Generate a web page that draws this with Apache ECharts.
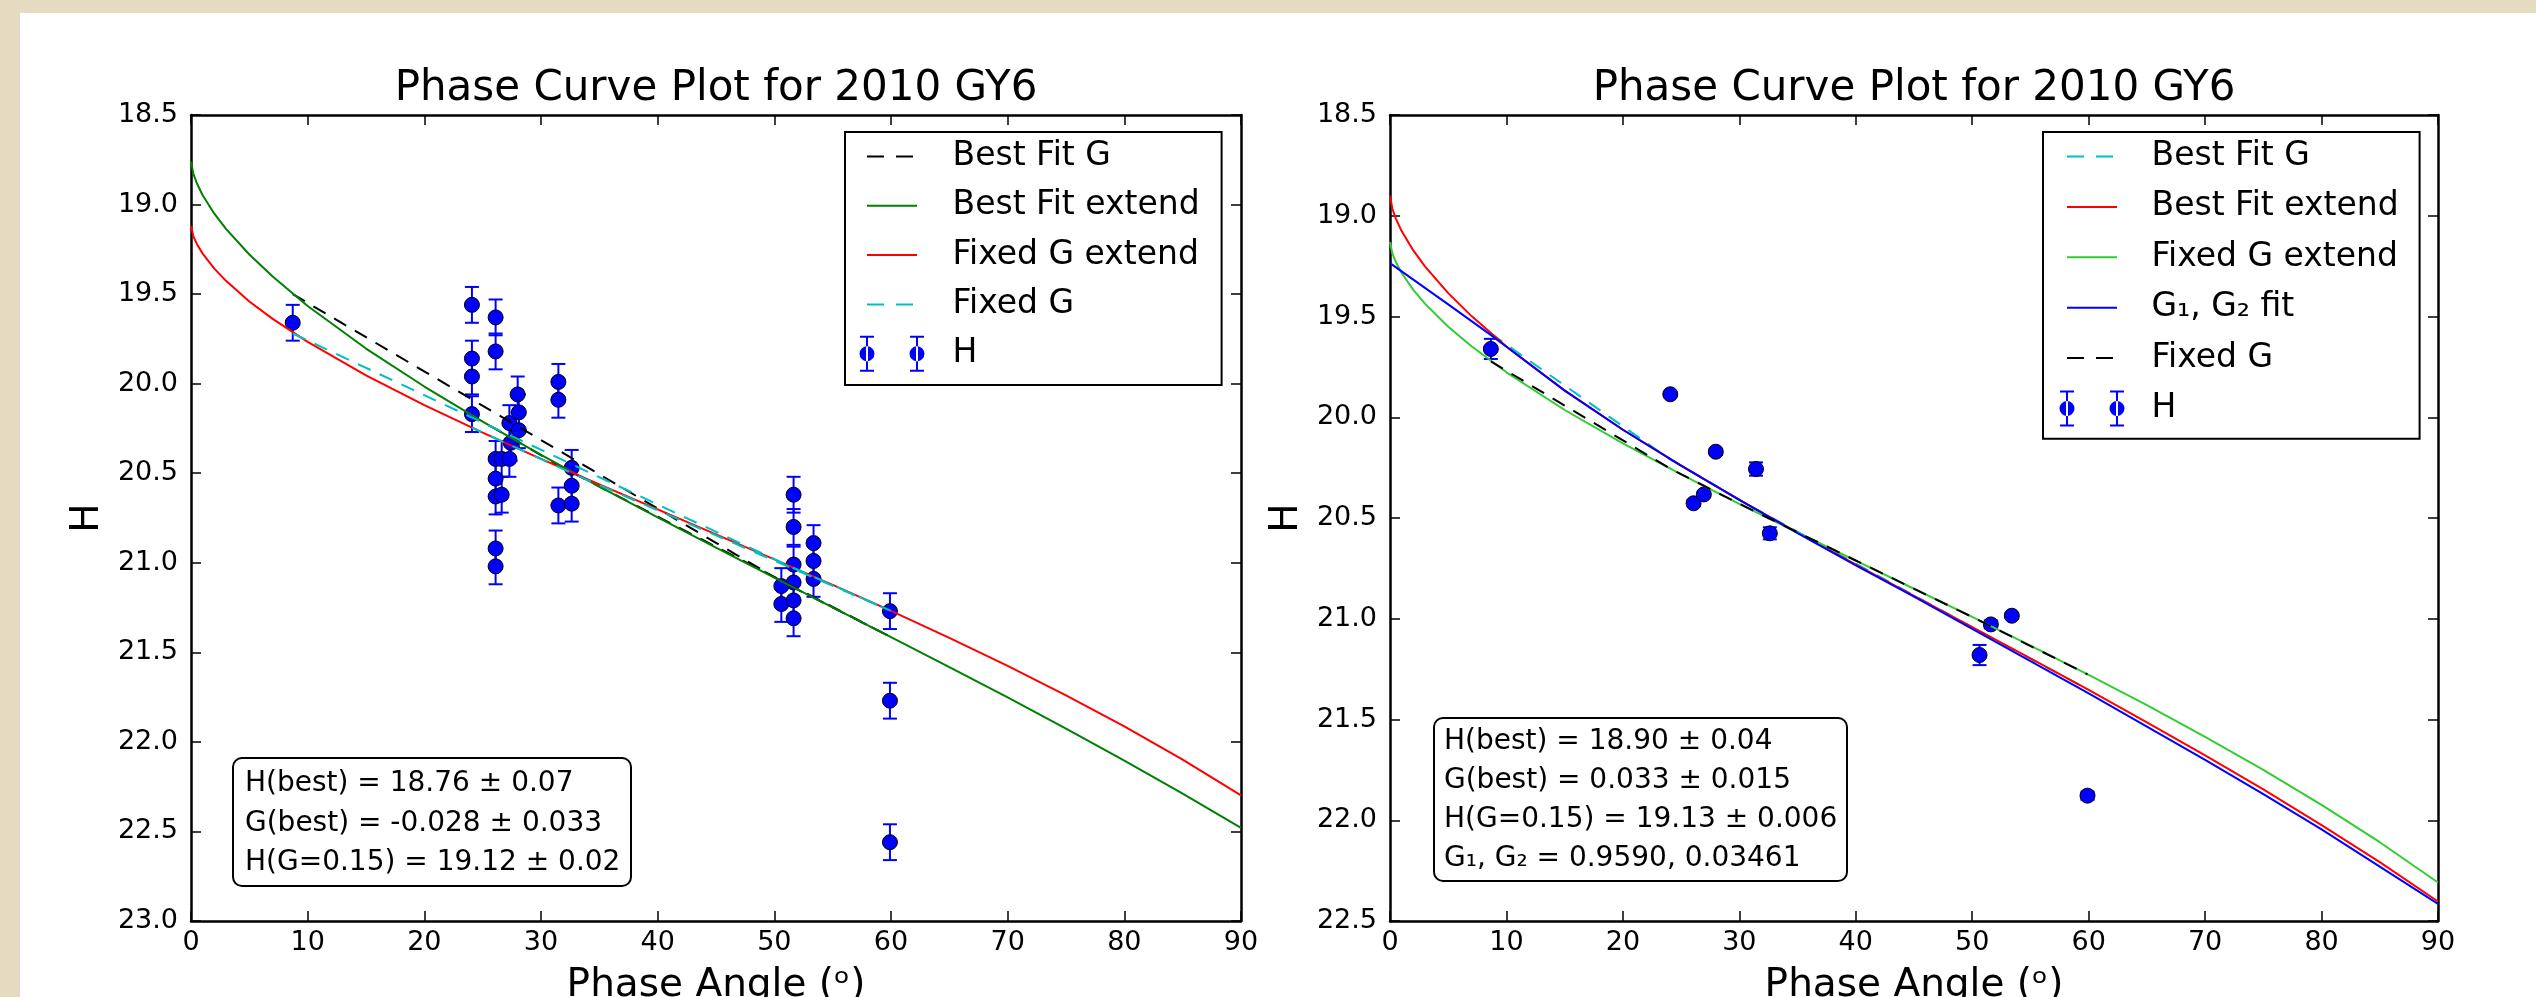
<!DOCTYPE html>
<html>
<head>
<meta charset="utf-8">
<title>Phase Curve Plot for 2010 GY6</title>
<script src="https://cdn.jsdelivr.net/npm/echarts@6/dist/echarts.min.js"></script>
<style>
html, body { margin: 0; padding: 0; background: #e4dbc1; }
#chart { width: 2536px; height: 997px; }
</style>
</head>
<body>
<div id="chart"></div>
<script>
// ---- data ----
// left panel: observations (phase angle, H, error)
const leftAngle = [8.72,
  24.08, 24.08, 24.08, 24.08,
  26.11, 26.11, 26.11, 26.11, 26.11, 26.11, 26.11,
  26.63, 26.63,
  27.29, 27.29, 27.4,
  28.0, 28.1, 28.1,
  31.49, 31.49, 31.49,
  32.63, 32.63, 32.63,
  50.6, 50.6,
  51.65, 51.65, 51.65, 51.65, 51.65, 51.65,
  53.36, 53.36, 53.36,
  59.91, 59.91, 59.91];
const leftH = [19.66,
  19.56, 19.86, 19.96, 20.17,
  19.63, 19.82, 20.42, 20.53, 20.63, 20.92, 21.02,
  20.42, 20.62,
  20.42, 20.22, 20.33,
  20.06, 20.16, 20.26,
  19.99, 20.09, 20.68,
  20.47, 20.57, 20.67,
  21.13, 21.23,
  20.62, 20.80, 21.01, 21.11, 21.21, 21.31,
  20.89, 20.99, 21.09,
  21.27, 21.77, 22.56];
const leftErr = [0.1,
  0.1, 0.1, 0.1, 0.1,
  0.1, 0.1, 0.1, 0.1, 0.1, 0.1, 0.1,
  0.1, 0.1,
  0.1, 0.1, 0.1,
  0.1, 0.1, 0.1,
  0.1, 0.1, 0.1,
  0.1, 0.1, 0.1,
  0.1, 0.1,
  0.1, 0.1, 0.1, 0.1, 0.1, 0.1,
  0.1, 0.1, 0.1,
  0.1, 0.1, 0.1];

// left panel: fit values at the observed angles, in the order they are joined
const leftFitAngle = [8.72, 50.6, 51.65, 53.36, 59.91, 32.63, 31.49, 28.1, 27.3, 26.11, 24.08];
const leftBestAtData = [19.50, 21.103, 21.138, 21.195, 21.412, 20.495, 20.455, 20.327, 20.297, 20.253, 20.18];
const leftFixedAtData = [19.72, 20.998, 21.029, 21.078, 21.266, 20.50, 20.465, 20.364, 20.341, 20.306, 20.245];

// extended curves (both panels)
const curveAngle = [0, 0.2, 0.5, 1, 2, 3, 5, 7, 10, 15, 20, 25, 30, 35, 40, 45, 50, 55, 60, 65, 70, 75, 80, 85, 90];
const leftBestExtend = [18.76, 18.828, 18.881, 18.948, 19.051, 19.136, 19.279, 19.402, 19.566, 19.804,
  20.016, 20.212, 20.397, 20.575, 20.747, 20.916, 21.083, 21.249, 21.415, 21.583, 21.751, 21.926,
  22.105, 22.289, 22.480];
const leftFixedExtend = [19.12, 19.176, 19.22, 19.274, 19.358, 19.426, 19.541, 19.638, 19.767, 19.954,
  20.120, 20.273, 20.420, 20.562, 20.702, 20.841, 20.981, 21.123, 21.269, 21.419, 21.576, 21.740,
  21.914, 22.099, 22.299];
const rightBestExtend = [18.90, 18.964, 19.014, 19.076, 19.172, 19.251, 19.384, 19.498, 19.649, 19.867,
  20.062, 20.240, 20.410, 20.572, 20.731, 20.887, 21.042, 21.197, 21.353, 21.514, 21.678, 21.847,
  22.024, 22.208, 22.403];
const rightFixedExtend = [19.13, 19.186, 19.23, 19.284, 19.368, 19.436, 19.551, 19.648, 19.777, 19.964,
  20.130, 20.283, 20.430, 20.572, 20.712, 20.851, 20.991, 21.133, 21.279, 21.429, 21.586, 21.750,
  21.924, 22.109, 22.309];

// right panel: G1, G2 fit
const g12Angle = [0, 5, 8.5, 10, 15, 20, 25, 30, 35, 40, 45, 50, 55, 60, 65, 70, 75, 80, 85, 90];
const g12H = [19.235, 19.44, 19.585, 19.65, 19.868, 20.062, 20.24, 20.41, 20.575, 20.735, 20.89, 21.05,
  21.21, 21.37, 21.535, 21.70, 21.87, 22.045, 22.23, 22.415];

// right panel: observations
const rightAngle = [8.66, 24.07, 26.07, 26.95, 27.98, 31.43, 32.62, 50.63, 51.6, 53.4, 59.9];
const rightH = [19.661, 19.886, 20.427, 20.383, 20.171, 20.257, 20.576, 21.18, 21.028, 20.985, 21.878];
const rightErr = [0.05, 0.012, 0.015, 0.015, 0.015, 0.033, 0.03, 0.05, 0.02, 0.015, 0.02];

// right panel: fit values at the observed angles
const rightBestAtData = [19.585, 20.21, 20.276, 20.306, 20.341, 20.456, 20.494, 21.062, 21.092, 21.148, 21.35];
const rightFixedAtData = [19.723, 20.255, 20.314, 20.340, 20.371, 20.470, 20.504, 21.009, 21.037, 21.089, 21.276];

const xTicks = { min: 0, max: 90, interval: 10 };
const leftYTicks = { min: 18.5, max: 23.0, interval: 0.5 };
const rightYTicks = { min: 18.5, max: 22.5, interval: 0.5 };

const leftStats = ['H(best) = 18.76 \u00b1 0.07', 'G(best) = -0.028 \u00b1 0.033', 'H(G=0.15) = 19.12 \u00b1 0.02'];
const rightStats = ['H(best) = 18.90 \u00b1 0.04', 'G(best) = 0.033 \u00b1 0.015', 'H(G=0.15) = 19.13 \u00b1 0.006',
  'G\u2081, G\u2082 = 0.9590, 0.03461'];

// ---- helpers ----
const FONT = 'DejaVu Sans';
const zip = (xs, ys) => xs.map((x, i) => [x, ys[i]]);
const bars = (xs, ys, es) => xs.map((x, i) => [x, ys[i] - es[i], ys[i] + es[i]]);

function xAxis(grid, bottom, ticks) {
  return {
    type: 'value', gridIndex: grid, position: bottom ? 'bottom' : 'top',
    min: ticks.min, max: ticks.max, interval: ticks.interval,
    axisLine: { onZero: false, lineStyle: { color: '#000', width: 2.5 } },
    axisTick: { inside: true, length: 10, lineStyle: { color: '#000', width: 1.5 } },
    axisLabel: { show: bottom, margin: 8, fontSize: 27, color: '#000', fontFamily: FONT },
    splitLine: { show: false },
    name: bottom ? 'Phase Angle (\u1d52)' : '',
    nameLocation: 'middle', nameGap: 45, nameMoveOverlap: false,
    nameTextStyle: { fontSize: 39, color: '#000', fontFamily: FONT }
  };
}

function yAxis(grid, left, ticks) {
  return {
    type: 'value', gridIndex: grid, position: left ? 'left' : 'right', inverse: true,
    min: ticks.min, max: ticks.max, interval: ticks.interval,
    axisLine: { onZero: false, lineStyle: { color: '#000', width: 2.5 } },
    axisTick: { inside: true, length: 10, lineStyle: { color: '#000', width: 1.5 } },
    axisLabel: { show: left, margin: 13, fontSize: 27, color: '#000', fontFamily: FONT,
      formatter: v => v.toFixed(1) },
    splitLine: { show: false },
    name: left ? 'H' : '',
    nameLocation: 'middle', nameGap: 84, nameRotate: 90, nameMoveOverlap: false,
    nameTextStyle: { fontSize: 39, color: '#000', fontFamily: FONT }
  };
}

function lineSeries(name, axis, data, color, dashed) {
  return {
    name: name, type: 'line', xAxisIndex: axis, yAxisIndex: axis, data: data,
    symbol: 'none', showSymbol: false, smooth: false,
    color: color, itemStyle: { color: color },
    lineStyle: { color: color, width: 2, type: dashed ? [14, 10] : 'solid', join: 'round' },
    silent: true
  };
}

function errorBarItem(params, api) {
  const x = api.value(0);
  const lo = api.coord([x, api.value(1)]);
  const hi = api.coord([x, api.value(2)]);
  const cap = 7;
  const style = { stroke: '#0000ff', lineWidth: 2, fill: null };
  return {
    type: 'group', children: [
      { type: 'line', shape: { x1: lo[0], y1: lo[1], x2: hi[0], y2: hi[1] }, style: style },
      { type: 'line', shape: { x1: lo[0] - cap, y1: lo[1], x2: lo[0] + cap, y2: lo[1] }, style: style },
      { type: 'line', shape: { x1: hi[0] - cap, y1: hi[1], x2: hi[0] + cap, y2: hi[1] }, style: style }
    ]
  };
}

function observed(prefix, axis, xs, ys, es) {
  return [
    { name: prefix + 'err', type: 'custom', xAxisIndex: axis, yAxisIndex: axis,
      data: bars(xs, ys, es), encode: { x: 0, y: [1, 2] }, renderItem: errorBarItem, silent: true },
    { name: prefix + 'H', type: 'scatter', xAxisIndex: axis, yAxisIndex: axis,
      data: zip(xs, ys), symbol: 'circle', symbolSize: 15, silent: true,
      itemStyle: { color: '#0000ff', borderColor: '#000', borderWidth: 1, opacity: 1 } }
  ];
}

// legend icons: the first two moves pin the icon box to w x 36
function icons(w) {
  const box = 'M0 0M' + w + ' 36';
  const dot = cx => 'M' + (cx - 1) + ' 1h2v34h-2z' +
    'M' + (cx - 7) + ' 0h14v2h-14z' + 'M' + (cx - 7) + ' 34h14v2h-14z' +
    'M' + (cx - 7.5) + ' 18a7.5 7.5 0 1 0 15 0a7.5 7.5 0 1 0 -15 0z';
  return {
    solid: 'path://' + box + 'M7.5 17h50v2h-50z',
    dashed: 'path://' + box + 'M7.5 17h17v2h-17zM36.5 17h17v2h-17z',
    marker: 'path://' + box + dot(7.5) + dot(57.5)
  };
}

function legend(left, gap, width, padding, items) {
  const ic = icons(width);
  return {
    left: left, top: 132, orient: 'vertical', selectedMode: false,
    itemWidth: width, itemHeight: 36, itemGap: gap, padding: padding,
    backgroundColor: '#fff', borderColor: '#000', borderWidth: 2, borderRadius: 0,
    itemStyle: { borderWidth: 0 },
    textStyle: { fontSize: 33, color: '#000', fontFamily: FONT, lineHeight: 36 },
    formatter: name => name.slice(2),
    data: items.map(it => ({ name: it[0], icon: ic[it[1]], itemStyle: { borderWidth: 0 } }))
  };
}

function statsBox(lines, left, top, lineHeight, padding) {
  return {
    text: lines.join('\n'), left: left, top: top, padding: padding,
    backgroundColor: '#fff', borderColor: '#000', borderWidth: 2, borderRadius: 9,
    textStyle: { fontSize: 28, fontWeight: 'normal', color: '#000', fontFamily: FONT, lineHeight: lineHeight }
  };
}

const chart = echarts.init(document.getElementById('chart'), null, { renderer: 'canvas' });

chart.setOption({
  animation: false,
  backgroundColor: '#e4dbc1',
  textStyle: { fontFamily: FONT },
  graphic: [{
    type: 'rect', z: -100, silent: true,
    shape: { x: 20, y: 13, width: 2516, height: 984 },
    style: { fill: '#ffffff' }
  }],
  title: [
    { text: 'Phase Curve Plot for 2010 GY6', left: 716, top: 68, textAlign: 'center', padding: 0,
      textStyle: { fontSize: 42, fontWeight: 'normal', color: '#000', fontFamily: FONT } },
    { text: 'Phase Curve Plot for 2010 GY6', left: 1914, top: 68, textAlign: 'center', padding: 0,
      textStyle: { fontSize: 42, fontWeight: 'normal', color: '#000', fontFamily: FONT } },
    statsBox(leftStats, 233, 758, 39.5, [6, 11, 4, 12]),
    statsBox(rightStats, 1434, 718, 39, [4, 10, 3, 10])
  ],
  grid: [
    { left: 191, top: 115, width: 1050, height: 806, outerBoundsMode: 'none' },
    { left: 1390, top: 115, width: 1048, height: 806, outerBoundsMode: 'none' }
  ],
  xAxis: [xAxis(0, true, xTicks), xAxis(0, false, xTicks), xAxis(1, true, xTicks), xAxis(1, false, xTicks)],
  yAxis: [yAxis(0, true, leftYTicks), yAxis(0, false, leftYTicks), yAxis(1, true, rightYTicks), yAxis(1, false, rightYTicks)],
  legend: [
    legend(845, 13.3, 88, [6.5, 22, 13.4, 14.5], [
      ['a:Best Fit G', 'dashed'], ['a:Best Fit extend', 'solid'], ['a:Fixed G extend', 'solid'],
      ['a:Fixed G', 'dashed'], ['a:H', 'marker']]),
    legend(2043, 14.4, 87, [6.5, 21, 12.3, 16.5], [
      ['b:Best Fit G', 'dashed'], ['b:Best Fit extend', 'solid'], ['b:Fixed G extend', 'solid'],
      ['b:G\u2081, G\u2082 fit', 'solid'], ['b:Fixed G', 'dashed'], ['b:H', 'marker']])
  ],
  series: [
    lineSeries('a:Best Fit G', 0, zip(leftFitAngle, leftBestAtData), '#000000', true),
    lineSeries('a:Best Fit extend', 0, zip(curveAngle, leftBestExtend), '#008000', false),
    lineSeries('a:Fixed G extend', 0, zip(curveAngle, leftFixedExtend), '#ff0000', false),
    lineSeries('a:Fixed G', 0, zip(leftFitAngle, leftFixedAtData), '#00bfbf', true),
    ...observed('a:', 0, leftAngle, leftH, leftErr),

    lineSeries('b:Best Fit G', 2, zip(rightAngle, rightBestAtData), '#00bfbf', true),
    lineSeries('b:Best Fit extend', 2, zip(curveAngle, rightBestExtend), '#ff0000', false),
    lineSeries('b:Fixed G extend', 2, zip(curveAngle, rightFixedExtend), '#32cd32', false),
    lineSeries('b:G\u2081, G\u2082 fit', 2, zip(g12Angle, g12H), '#0000ff', false),
    lineSeries('b:Fixed G', 2, zip(rightAngle, rightFixedAtData), '#000000', true),
    ...observed('b:', 2, rightAngle, rightH, rightErr)
  ]
});
</script>
</body>
</html>
